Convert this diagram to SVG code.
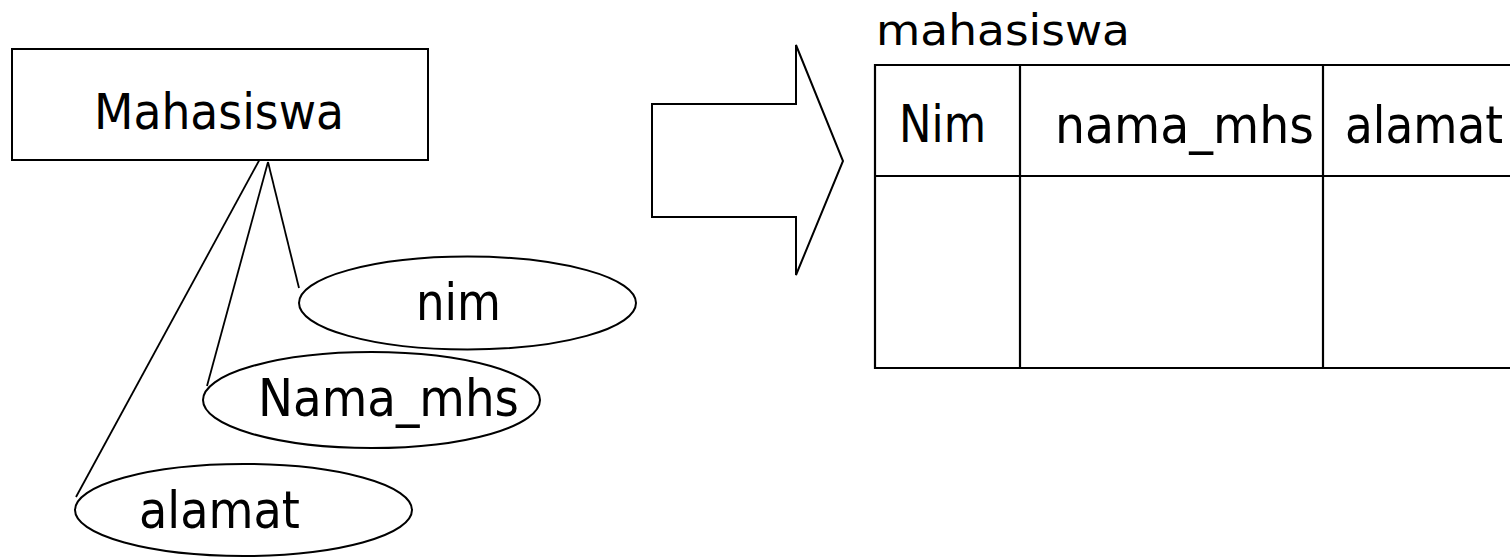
<svg xmlns="http://www.w3.org/2000/svg" width="1510" height="557" viewBox="0 0 1510 557">
<style>
  .shape { fill: #ffffff; stroke: #000000; stroke-width: 2; }
  .edge { fill: none; stroke: #000000; stroke-width: 1.8; }
  .grid { fill: none; stroke: #000000; stroke-width: 2.2; }
  text { font-family: "DejaVu Sans", "Noto Sans", sans-serif; fill: #000000; }
</style>
<rect x="0" y="0" width="1510" height="557" fill="#ffffff"/>
<g id="connectors">
  <line class="edge" x1="267" y1="146" x2="76" y2="497"/>
  <line class="edge" x1="268" y1="162" x2="207" y2="386"/>
  <line class="edge" x1="268" y1="162" x2="299" y2="288"/>
</g>
<g id="entity-mahasiswa">
  <rect class="shape" x="12" y="49" width="416" height="111"/>
  <text x="94" y="129" font-size="49" textLength="250" lengthAdjust="spacingAndGlyphs">Mahasiswa</text>
</g>
<g id="attr-nim">
  <ellipse class="shape" cx="467.5" cy="303" rx="168.5" ry="46.5"/>
  <text x="416" y="320" font-size="52" textLength="85" lengthAdjust="spacingAndGlyphs">nim</text>
</g>
<g id="attr-nama">
  <ellipse class="shape" cx="371.5" cy="400" rx="168.5" ry="48"/>
  <text x="258" y="416" font-size="52" textLength="261" lengthAdjust="spacingAndGlyphs">Nama_mhs</text>
</g>
<g id="attr-alamat">
  <ellipse class="shape" cx="243.5" cy="510" rx="168.5" ry="46"/>
  <text x="139" y="528" font-size="52" textLength="161" lengthAdjust="spacingAndGlyphs">alamat</text>
</g>
<g id="arrow">
  <polygon class="shape" points="652,104 796,104 796,45 843,161 796,275 796,217 652,217"/>
</g>
<g id="table-mahasiswa">
  <text x="876" y="45" font-size="43" textLength="254" lengthAdjust="spacingAndGlyphs">mahasiswa</text>
  <line class="grid" x1="875" y1="65" x2="1512" y2="65"/>
  <line class="grid" x1="875" y1="176" x2="1512" y2="176"/>
  <line class="grid" x1="875" y1="368" x2="1512" y2="368"/>
  <line class="grid" x1="875" y1="64" x2="875" y2="369"/>
  <line class="grid" x1="1020" y1="65" x2="1020" y2="368"/>
  <line class="grid" x1="1323" y1="65" x2="1323" y2="368"/>
  <text x="899" y="142" font-size="51" textLength="87" lengthAdjust="spacingAndGlyphs">Nim</text>
  <text x="1055" y="143" font-size="51" textLength="259" lengthAdjust="spacingAndGlyphs">nama_mhs</text>
  <text x="1345" y="143" font-size="51" textLength="158" lengthAdjust="spacingAndGlyphs">alamat</text>
</g>
</svg>
